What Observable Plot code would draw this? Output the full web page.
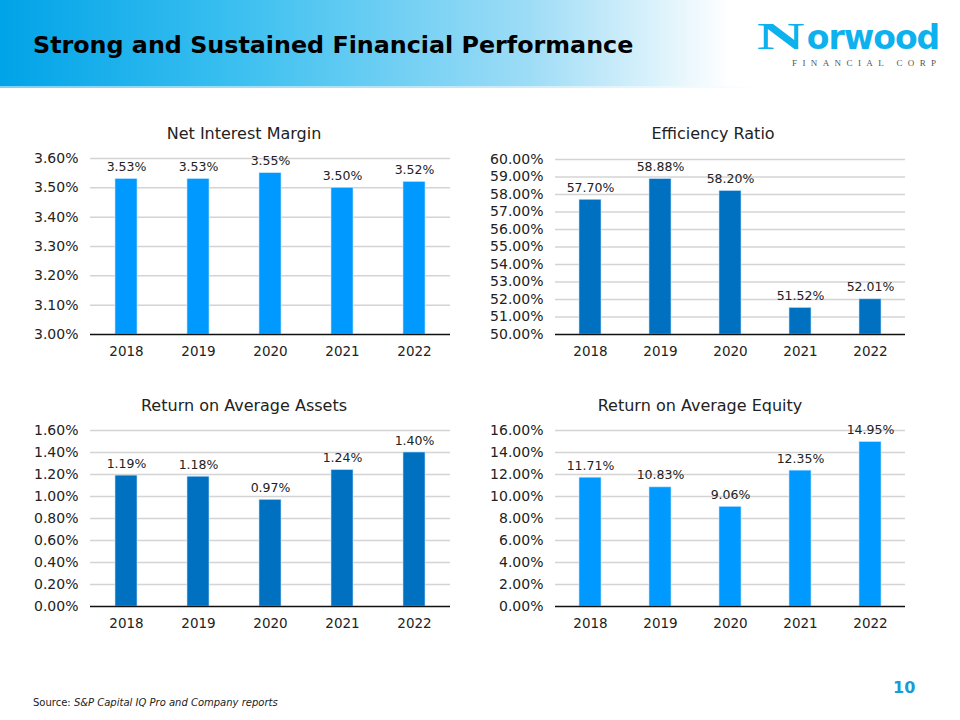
<!DOCTYPE html>
<html>
<head>
<meta charset="utf-8">
<script src="https://cdn.jsdelivr.net/npm/d3@7"></script>
<script src="https://cdn.jsdelivr.net/npm/@observablehq/plot@0.6"></script>
<style>
  html, body { margin: 0; padding: 0; background: #fff; }
  body { width: 960px; height: 720px; position: relative; overflow: hidden; font-family: "DejaVu Sans", Verdana, sans-serif; color: #222; }
  #banner { position: absolute; left: 0; top: 0; width: 960px; height: 88px;
    background: linear-gradient(to right, #00a3e8 0%, #3cc0f0 25%, #9ddcf6 55%, #ffffff 76%, #ffffff 100%); }
  #banner-line { position: absolute; left: 0; top: 86px; width: 760px; height: 2px;
    background: linear-gradient(to right, #7fd0f2 0%, #bfe8f8 60%, #ffffff 100%); }
  #title { position: absolute; left: 33px; top: 31px; font-family: "DejaVu Sans", Verdana, sans-serif; font-weight: bold; font-size: 23.8px; color: #000; white-space: nowrap; }
  #logo-name { position: absolute; left: 757px; top: 24px; height: 28px; font-family: "DejaVu Sans", sans-serif; font-weight: bold; font-size: 33px; color: #0db1ee; line-height: 28px; letter-spacing: -1px; white-space: nowrap; }
  #logo-name .n { display: inline-block; line-height: 28px; font-family: "Liberation Serif", serif; font-size: 33px; font-weight: bold; transform: scale(2.0, 1.15); transform-origin: left bottom; margin-right: 26px; letter-spacing: 0; }
  #logo-sub { position: absolute; left: 792px; top: 58px; font-family: "Liberation Serif", serif; font-size: 9px; line-height: 10px; color: #555; letter-spacing: 5.4px; white-space: nowrap; }
  .ctitle { position: absolute; font-size: 16px; color: #222; white-space: nowrap; transform: translate(-50%, -50%); }
  .chart { position: absolute; }
  #pagenum { position: absolute; left: 893px; top: 678px; font-weight: bold; font-size: 16px; color: #1a9ad6; }
  #source { position: absolute; left: 33px; top: 697px; font-size: 10px; color: #222; white-space: nowrap; }
</style>
</head>
<body>
<div id="banner"></div>
<div id="banner-line"></div>
<div id="title">Strong and Sustained Financial Performance</div>
<div id="logo-name"><span class="n">N</span>orwood</div>
<div id="logo-sub">FINANCIAL CORP</div>

<div class="ctitle" style="left:244px; top:133px;">Net Interest Margin</div>
<div class="ctitle" style="left:713px; top:133px;">Efficiency Ratio</div>
<div class="ctitle" style="left:244px; top:405px;">Return on Average Assets</div>
<div class="ctitle" style="left:700px; top:405px;">Return on Average Equity</div>

<div id="c1" class="chart" style="left:0px; top:140px;"></div>
<div id="c2" class="chart" style="left:470px; top:140px;"></div>
<div id="c3" class="chart" style="left:0px; top:412px;"></div>
<div id="c4" class="chart" style="left:470px; top:412px;"></div>

<div id="pagenum">10</div>
<div id="source">Source: <i>S&amp;P Capital IQ Pro and Company reports</i></div>

<script>
// ---- Data ----
const years = ["2018", "2019", "2020", "2021", "2022"];

const netInterestMargin = [3.53, 3.53, 3.55, 3.50, 3.52];
const efficiencyRatio   = [57.70, 58.88, 58.20, 51.52, 52.01];
const returnOnAvgAssets = [1.19, 1.18, 0.97, 1.24, 1.40];
const returnOnAvgEquity = [11.71, 10.83, 9.06, 12.35, 14.95];

const nimTicks = [3.00, 3.10, 3.20, 3.30, 3.40, 3.50, 3.60];
const effTicks = [50, 51, 52, 53, 54, 55, 56, 57, 58, 59, 60];
const roaaTicks = [0.00, 0.20, 0.40, 0.60, 0.80, 1.00, 1.20, 1.40, 1.60];
const roaeTicks = [0, 2, 4, 6, 8, 10, 12, 14, 16];

const colorLight = "#0099ff";
const colorDark = "#0070c0";

const fmt = d => d.toFixed(2) + "%";

function chart(values, ticks, color, opts) {
  const data = years.map((y, i) => ({year: y, value: values[i]}));
  const lo = ticks[0], hi = ticks[ticks.length - 1];
  return Plot.plot({
    width: opts.width,
    height: 230,
    marginLeft: opts.marginLeft,
    marginRight: opts.marginRight,
    marginTop: opts.marginTop,
    marginBottom: 36,
    style: {fontFamily: "'DejaVu Sans', Verdana, sans-serif", color: "#222", background: "transparent", overflow: "visible"},
    x: {type: "band", domain: years, paddingInner: 0.69, paddingOuter: 0.345},
    y: {domain: [lo, hi]},
    marks: [
      Plot.ruleY(ticks.slice(1), {stroke: "#d4d4d4", strokeWidth: 1.5}),
      Plot.barY(data, {x: "year", y1: lo, y2: "value", fill: color, stroke: "#bfe3ff", strokeWidth: 0.6}),
      Plot.ruleY([lo], {stroke: "#111", strokeWidth: 1.5}),
      Plot.text(data, {x: "year", y: "value", text: d => fmt(d.value), dy: -12, fontSize: 12.5, fill: "#222"}),
      Plot.axisY({ticks: ticks, tickFormat: fmt, tickSize: 0, tickPadding: 12, fontSize: 14, label: null}),
      Plot.axisX({tickSize: 0, tickPadding: 12, fontSize: 13.5, label: null})
    ]
  });
}

document.getElementById("c1").append(chart(netInterestMargin, nimTicks, colorLight, {width: 470, marginLeft: 90, marginRight: 20, marginTop: 18}));
document.getElementById("c2").append(chart(efficiencyRatio, effTicks, colorDark, {width: 450, marginLeft: 85, marginRight: 15, marginTop: 19}));
document.getElementById("c3").append(chart(returnOnAvgAssets, roaaTicks, colorDark, {width: 470, marginLeft: 90, marginRight: 20, marginTop: 18}));
document.getElementById("c4").append(chart(returnOnAvgEquity, roaeTicks, colorLight, {width: 450, marginLeft: 85, marginRight: 15, marginTop: 18}));
</script>
</body>
</html>
